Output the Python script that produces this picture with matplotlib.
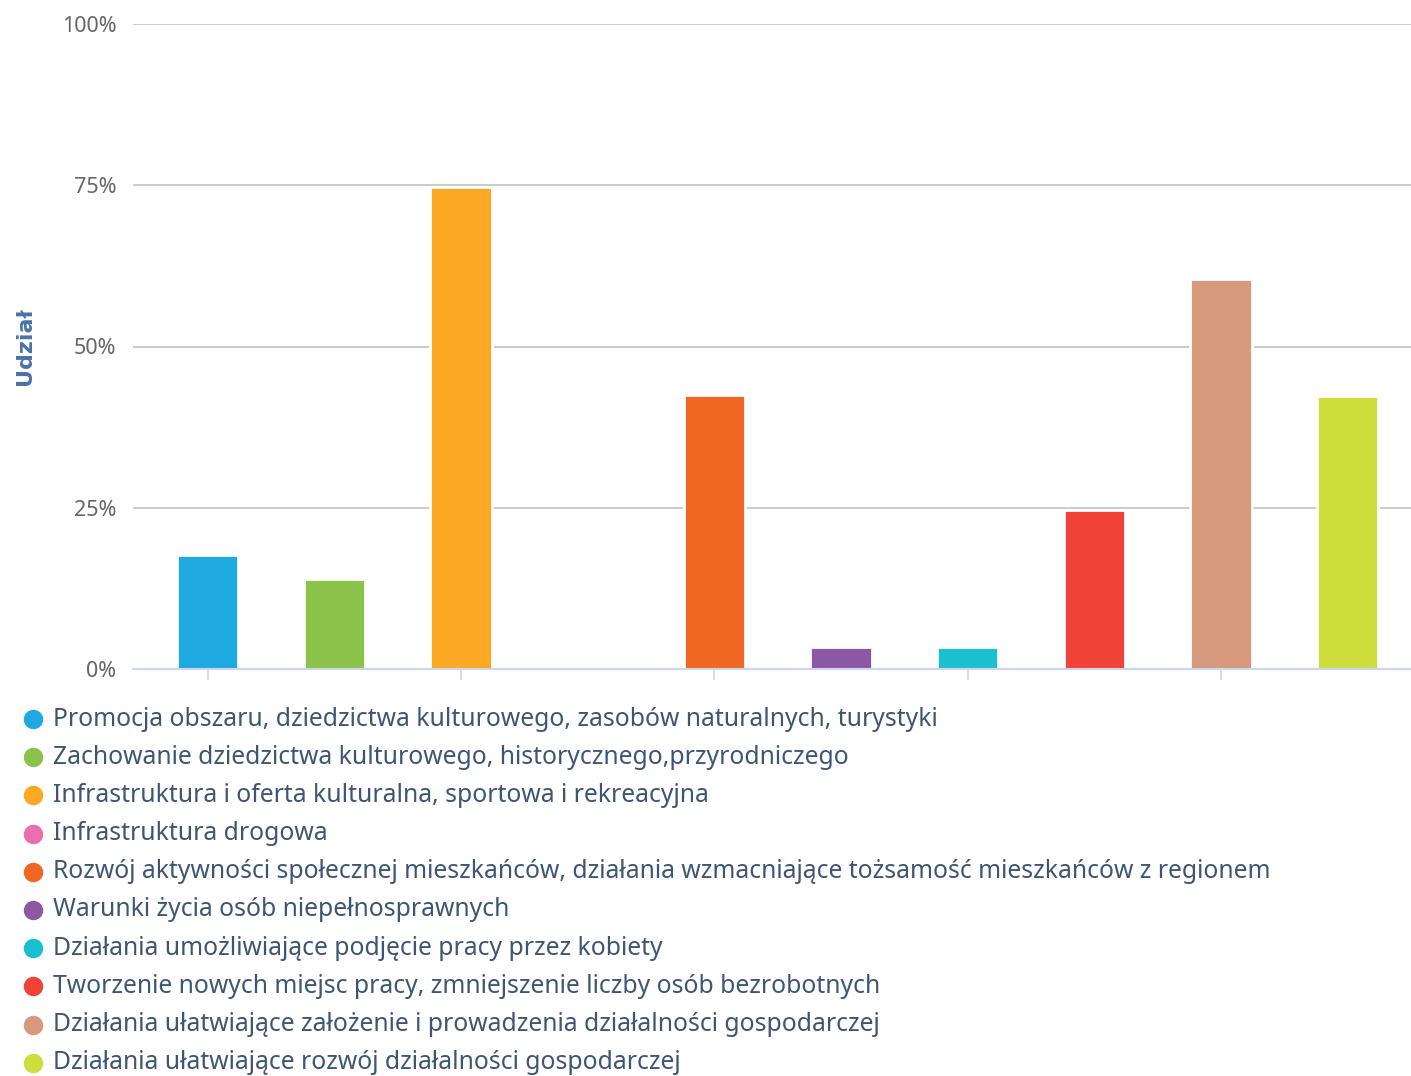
import matplotlib.pyplot as plt
from matplotlib.lines import Line2D

categories = [
    "Promocja obszaru, dziedzictwa kulturowego, zasobów naturalnych, turystyki",
    "Zachowanie dziedzictwa kulturowego, historycznego,przyrodniczego",
    "Infrastruktura i oferta kulturalna, sportowa i rekreacyjna",
    "Infrastruktura drogowa",
    "Rozwój aktywności społecznej mieszkańców, działania wzmacniające tożsamość mieszkańców z regionem",
    "Warunki życia osób niepełnosprawnych",
    "Działania umożliwiające podjęcie pracy przez kobiety",
    "Tworzenie nowych miejsc pracy, zmniejszenie liczby osób bezrobotnych",
    "Działania ułatwiające założenie i prowadzenia działalności gospodarczej",
    "Działania ułatwiające rozwój działalności gospodarczej",
]
shares = [17.6, 13.9, 74.8, 0.0, 42.5, 3.4, 3.4, 24.7, 60.5, 42.4]
colors = ["#1fa9e1", "#8bc34a", "#fba823", "#e96fae", "#f06623",
          "#8e57a3", "#1bbfd0", "#f04236", "#d6997b", "#cedd3c"]
y_ticks = [0, 25, 50, 75, 100]
y_tick_labels = ["0%", "25%", "50%", "75%", "100%"]

plt.rcParams["font.family"] = ["Noto Sans", "DejaVu Sans"]

W, H = 1411, 1076
fig = plt.figure(figsize=(W / 100, H / 100), dpi=100)
ax = fig.add_axes([133 / W, 1 - 669 / H, 1 - 133 / W, (669 - 24) / H])

x = list(range(len(categories)))
ax.bar(x, shares, width=0.485, color=colors, edgecolor="white", linewidth=2, zorder=3)

ax.set_xlim(-0.59, 9.5)
ax.set_ylim(0, 100)
ax.set_yticks(y_ticks)
ax.set_yticklabels(y_tick_labels, color="#666666", fontsize=15.5)
ax.tick_params(axis="y", length=0, pad=12)
ax.set_xticks([0, 2, 4, 6, 8])
ax.set_xticklabels([])
ax.tick_params(axis="x", length=8, width=1.2, color="#ccd6eb", direction="out")
ax.grid(axis="y", color="#cccccc", linewidth=1.5, zorder=1)
for s in ["top", "right", "left"]:
    ax.spines[s].set_visible(False)
ax.spines["bottom"].set_color("#ccd6eb")
ax.spines["bottom"].set_linewidth(1.5)
ax.spines["bottom"].set_zorder(4)

fig.text(25 / W, 1 - 346 / H, "Udział", rotation=90, ha="center", va="center",
         color="#4a72a5", fontsize=16, fontweight="bold", family=["DejaVu Sans"])

# legend, one row per category
y0, dy = 719, 38.2
for i, (lab, c) in enumerate(zip(categories, colors)):
    yy = 1 - (y0 + i * dy) / H
    fig.add_artist(Line2D([33 / W], [yy], marker="o", markersize=13, color=c,
                          linestyle="none", transform=fig.transFigure))
    fig.text(53 / W, yy, lab, ha="left", va="center", color="#3e5573", fontsize=17.75)

fig.savefig("out.png", dpi=100, facecolor="white")
